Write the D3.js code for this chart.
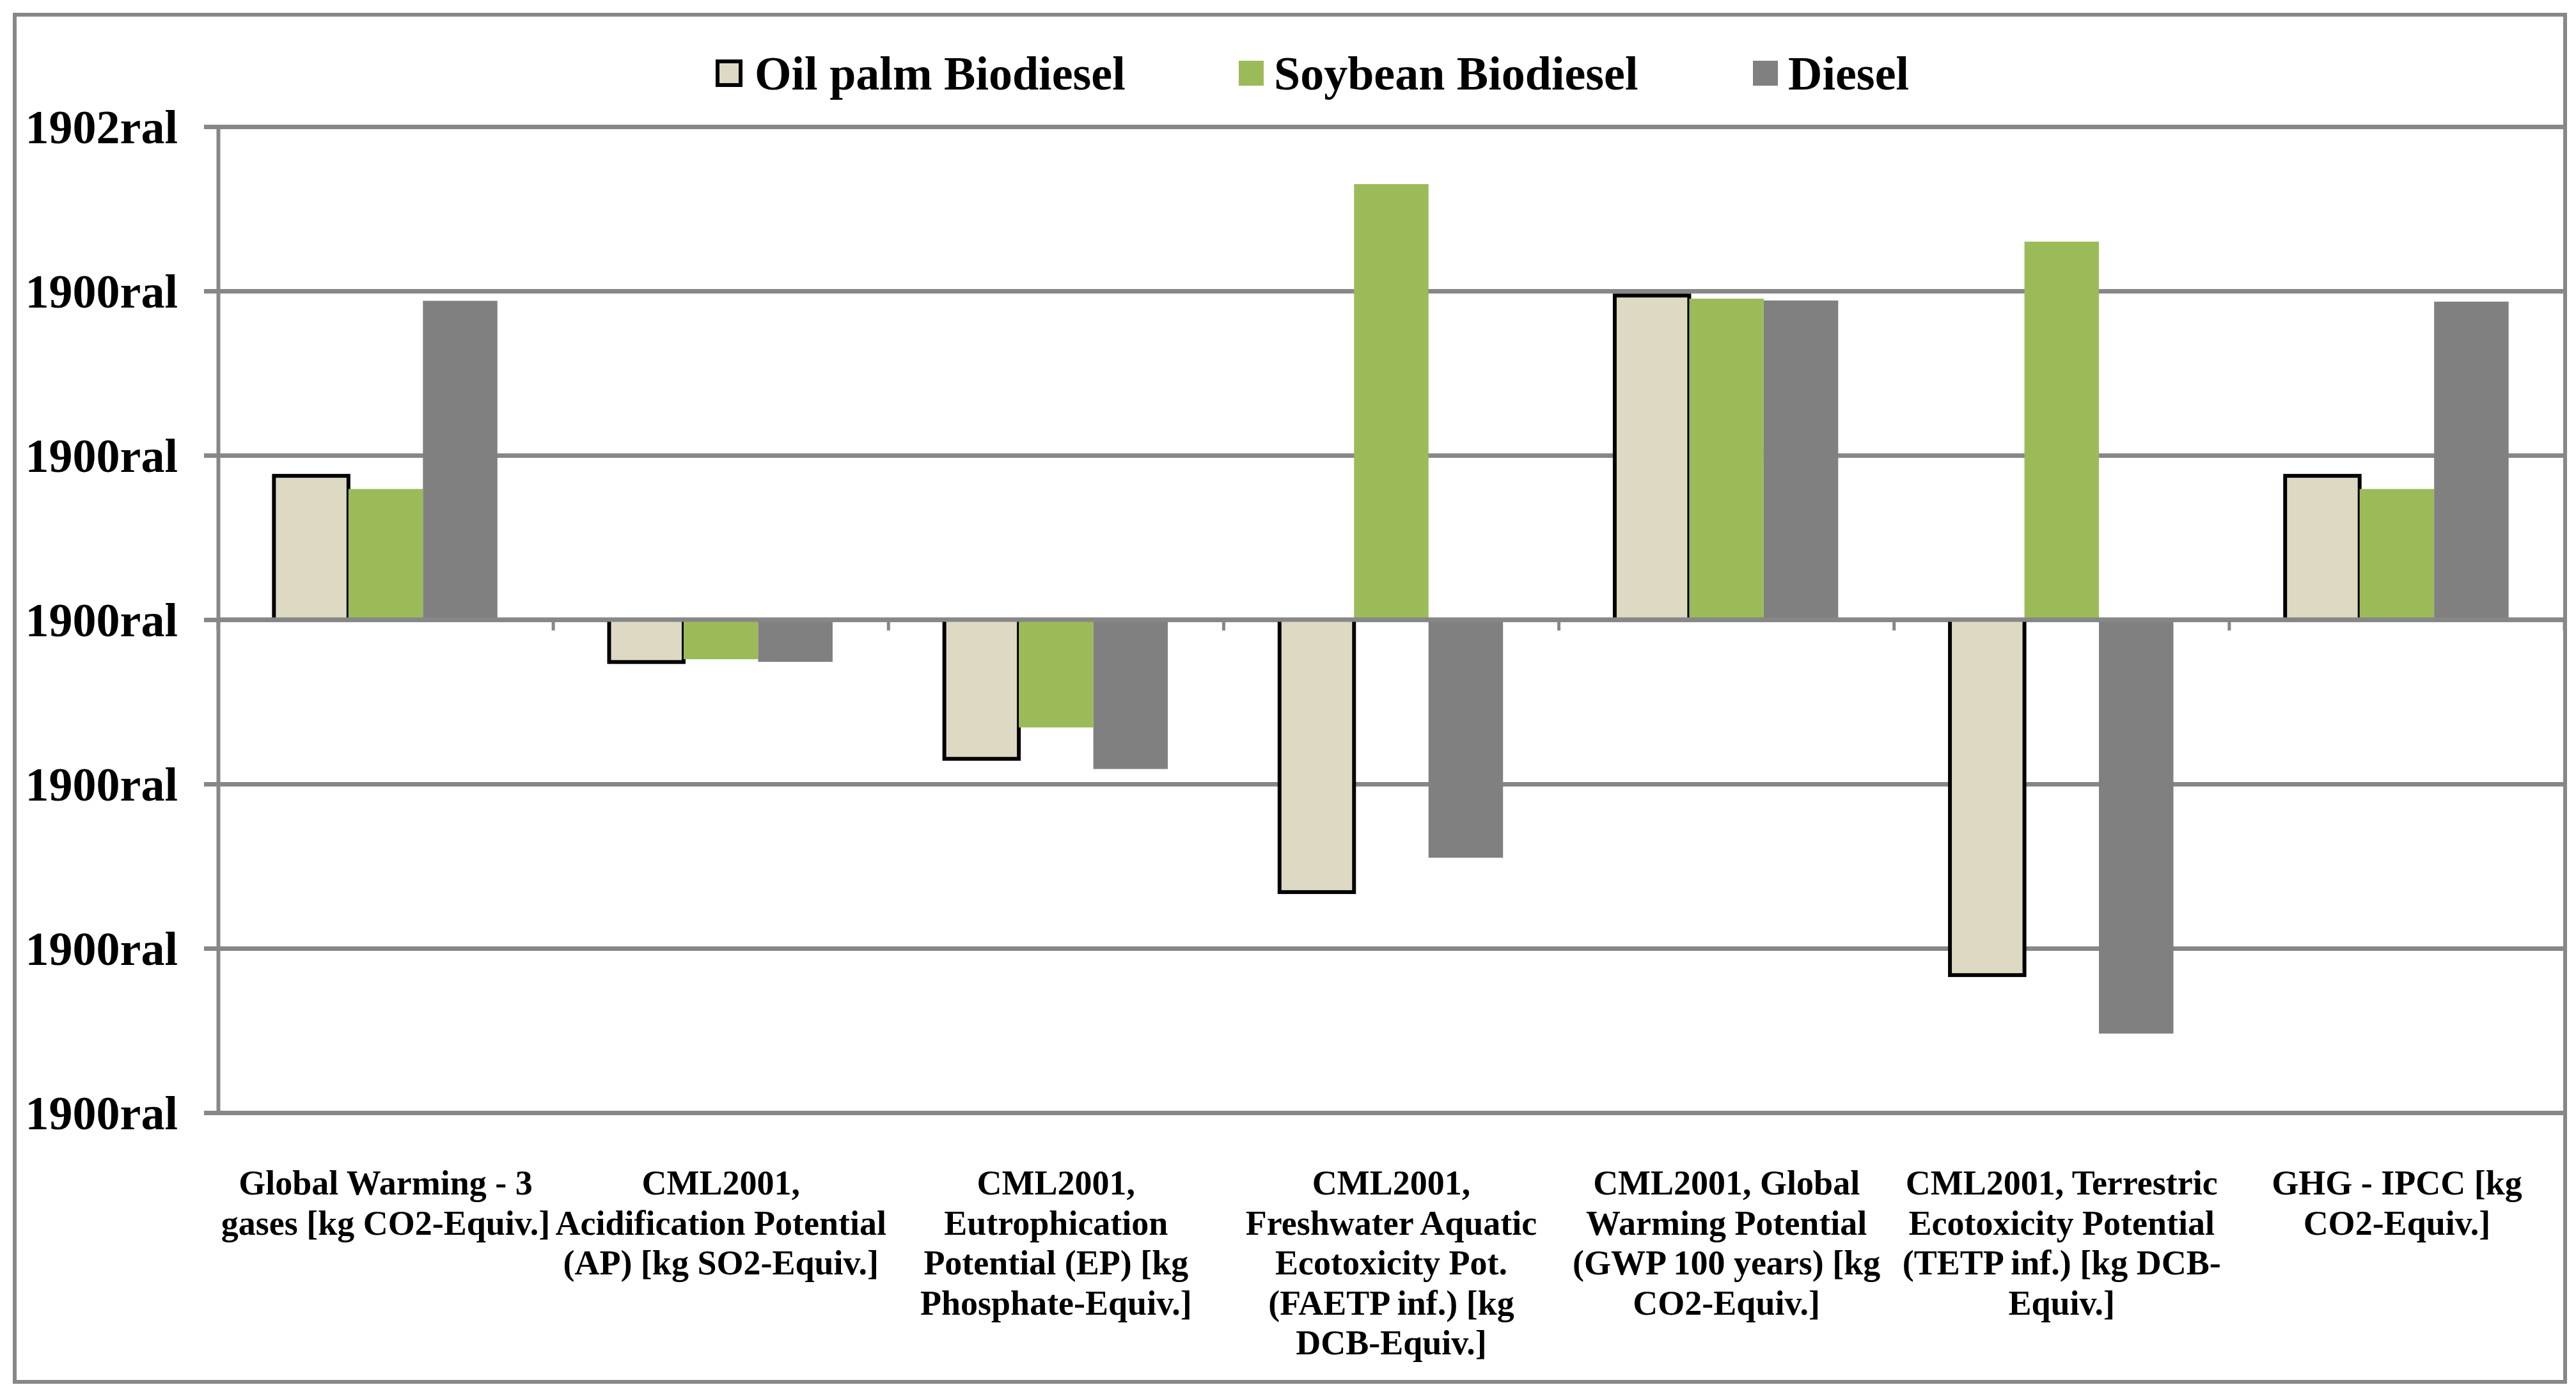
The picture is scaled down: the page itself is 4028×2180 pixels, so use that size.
<!DOCTYPE html>
<html>
<head>
<meta charset="utf-8">
<script src="https://cdn.jsdelivr.net/npm/d3@7"></script>
<style>
  html, body { margin: 0; padding: 0; background: #fff; }
  svg { display: block; }
  text { font-family: "Liberation Serif", "Times New Roman", serif; font-weight: bold; fill: #000; }
</style>
</head>
<body>
<svg id="chart"></svg>
<script>
// categories and how their labels wrap under the axis
const categories = [
  "Global Warming - 3 gases [kg CO2-Equiv.]",
  "CML2001, Acidification Potential (AP) [kg SO2-Equiv.]",
  "CML2001, Eutrophication Potential (EP) [kg Phosphate-Equiv.]",
  "CML2001, Freshwater Aquatic Ecotoxicity Pot. (FAETP inf.) [kg DCB-Equiv.]",
  "CML2001, Global Warming Potential (GWP 100 years) [kg CO2-Equiv.]",
  "CML2001, Terrestric Ecotoxicity Potential (TETP inf.) [kg DCB-Equiv.]",
  "GHG - IPCC [kg CO2-Equiv.]"
];
const categoryLines = [
  ["Global Warming - 3", "gases [kg CO2-Equiv.]"],
  ["CML2001,", "Acidification Potential", "(AP) [kg SO2-Equiv.]"],
  ["CML2001,", "Eutrophication", "Potential (EP) [kg", "Phosphate-Equiv.]"],
  ["CML2001,", "Freshwater Aquatic", "Ecotoxicity Pot.", "(FAETP inf.) [kg", "DCB-Equiv.]"],
  ["CML2001, Global", "Warming Potential", "(GWP 100 years) [kg", "CO2-Equiv.]"],
  ["CML2001, Terrestric", "Ecotoxicity Potential", "(TETP inf.) [kg DCB-", "Equiv.]"],
  ["GHG - IPCC [kg", "CO2-Equiv.]"]
];

const seriesNames = ["Oil palm Biodiesel", "Soybean Biodiesel", "Diesel"];
const oilPalm = [0.875, -0.258, -0.847, -1.658, 1.972, -2.163, 0.875];
const soybean = [0.795, -0.241, -0.656, 2.65, 1.953, 2.30, 0.795];
const diesel  = [1.94, -0.257, -0.909, -1.449, 1.942, -2.519, 1.935];

// y ticks (the axis labels are printed like this in the source)
const yTickValues = [-3, -2, -1, 0, 1, 2, 3];
const yTickLabels = ["1900ral", "1900ral", "1900ral", "1900ral", "1900ral", "1900ral", "1902ral"];

const seriesValues = [oilPalm, soybean, diesel];
const data = categories.map((c, i) => ({
  cat: c,
  values: seriesNames.map((s, j) => ({ series: s, value: seriesValues[j][i] }))
}));

const W = 4028, H = 2180;
const plot = { left: 341, right: 4010, top: 198, bottom: 1740 };
const gridColor = "#878787";
const colors = d3.scaleOrdinal()
  .domain(seriesNames)
  .range(["#ddd9c3", "#9bbb59", "#808080"]);

const svg = d3.select("#chart").attr("width", W).attr("height", H);

// outer frame
svg.append("rect")
  .attr("x", 23).attr("y", 23)
  .attr("width", 4011 - 23).attr("height", 2161 - 23)
  .attr("fill", "none")
  .attr("stroke", gridColor)
  .attr("stroke-width", 6);

const x = d3.scaleBand()
  .domain(categories)
  .range([plot.left, plot.right])
  .paddingInner(0).paddingOuter(0);

const xInner = d3.scaleBand()
  .domain(seriesNames)
  .range([0, x.bandwidth()])
  .paddingInner(0).paddingOuter(0.75);

const y = d3.scaleLinear()
  .domain([-3, 3])
  .range([plot.bottom, plot.top]);

// gridlines (with outward tick stubs left of the axis)
const gridG = svg.append("g")
  .attr("transform", `translate(${plot.left - 22},0)`)
  .call(d3.axisRight(y).tickValues(yTickValues).tickSize(plot.right - plot.left + 22).tickFormat(""));
gridG.select(".domain").remove();
gridG.selectAll(".tick line").attr("stroke", gridColor).attr("stroke-width", 7);

// y axis line + labels
const yAxisG = svg.append("g")
  .attr("transform", `translate(${plot.left},0)`)
  .call(d3.axisLeft(y)
    .tickValues(yTickValues)
    .tickSize(0)
    .tickPadding(63)
    .tickFormat((d, i) => yTickLabels[i]));
yAxisG.select(".domain").attr("stroke", gridColor).attr("stroke-width", 6);
yAxisG.selectAll(".tick text")
  .attr("font-size", 74)
  .attr("font-family", "Liberation Serif")
  .attr("font-weight", "bold")
  .attr("dy", "0.34em");

// bars
const groups = svg.append("g")
  .selectAll("g")
  .data(data)
  .join("g")
  .attr("transform", d => `translate(${x(d.cat)},0)`);

groups.selectAll("rect")
  .data(d => d.values)
  .join("rect")
  .attr("x", d => xInner(d.series))
  .attr("width", xInner.bandwidth())
  .attr("y", d => y(Math.max(0, d.value)))
  .attr("height", d => Math.abs(y(d.value) - y(0)))
  .attr("fill", d => colors(d.series))
  .attr("stroke", d => d.series === seriesNames[0] ? "#000" : "none")
  .attr("stroke-width", 6);

// category axis at zero, drawn over the bars
const xAxisG = svg.append("g");
xAxisG.append("line")
  .attr("x1", plot.left).attr("x2", plot.right)
  .attr("y1", y(0)).attr("y2", y(0))
  .attr("stroke", gridColor).attr("stroke-width", 7);
const edges = categories.map(c => x(c)).concat([x(categories[categories.length - 1]) + x.bandwidth()]);
xAxisG.selectAll(".xtick")
  .data(edges)
  .join("line")
  .attr("class", "xtick")
  .attr("x1", d => d).attr("x2", d => d)
  .attr("y1", y(0)).attr("y2", y(0) + 17)
  .attr("stroke", gridColor).attr("stroke-width", 5);

// category labels
const labelG = svg.append("g");
labelG.selectAll("text")
  .data(categories)
  .join("text")
  .attr("x", d => x(d) + x.bandwidth() / 2)
  .attr("y", 1868)
  .attr("text-anchor", "middle")
  .attr("font-size", 54)
  .each(function(d, i) {
    d3.select(this).selectAll("tspan")
      .data(categoryLines[i])
      .join("tspan")
      .attr("x", x(d) + x.bandwidth() / 2)
      .attr("dy", (l, k) => k === 0 ? 0 : 62.5)
      .text(l => l);
  });

// legend
const legendX = [1119, 1937, 2741];
const legend = svg.append("g")
  .selectAll("g")
  .data(seriesNames)
  .join("g")
  .attr("transform", (d, i) => `translate(${legendX[i]},0)`);

legend.append("rect")
  .attr("x", (d, i) => i === 0 ? 3 : 0)
  .attr("y", (d, i) => i === 0 ? 96 : 95)
  .attr("width", (d, i) => i === 0 ? 36 : 39)
  .attr("height", (d, i) => i === 0 ? 37 : 39)
  .attr("fill", d => colors(d))
  .attr("stroke", (d, i) => i === 0 ? "#000" : "none")
  .attr("stroke-width", 6);

legend.append("text")
  .attr("x", (d, i) => i === 0 ? 61 : 55)
  .attr("y", 140)
  .attr("font-size", 74)
  .text(d => d);
</script>
</body>
</html>
